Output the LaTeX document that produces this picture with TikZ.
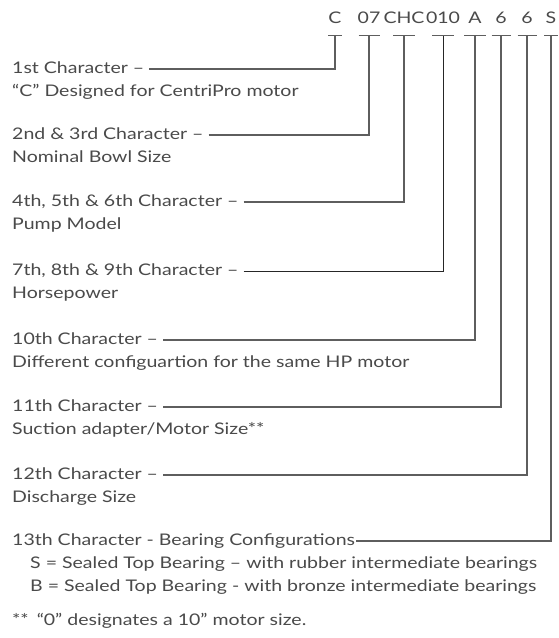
\documentclass[tikz,border=0pt]{standalone}
\usepackage{fontspec}
\setmainfont{Lato}[FakeStretch=1.22]
\usetikzlibrary{calc}
\definecolor{txt}{HTML}{4A4A4A}
\definecolor{ln}{HTML}{5E5E5E}
\begin{document}
\begin{tikzpicture}[x=1pt,y=-1pt,
  every node/.style={text=txt, inner sep=0pt, font=\fontsize{16}{18}\selectfont},
  lbl/.style={anchor=base west},
  code/.style={anchor=base},
  conn/.style={draw=ln, line width=1.2pt},
  connd/.style={draw=black!85, line width=0.9pt}]
\useasboundingbox (0,0) rectangle (558,638);
\fill[white] (0,0) rectangle (558,638);
% code characters
\node[code] (c1) at (335,23) {C};
\node[code] (c2) at (369,23) {07};
\node[code] (c3) at (404,23) {CHC};
\node[code] (c4) at (443,23) {010};
\node[code] (c5) at (475,23) {A};
\node[code] (c6) at (501,23) {6};
\node[code] (c7) at (527,23) {6};
\node[code] (c8) at (551,23) {S};
% tick points
\coordinate (t1) at (335,35.5);
\coordinate (t2) at (369,35.5);
\coordinate (t3) at (404,35.5);
\coordinate (t4) at (443,35.5);
\coordinate (t5) at (475,35.5);
\coordinate (t6) at (501,35.5);
\coordinate (t7) at (527,35.5);
\coordinate (t8) at (551,35.5);
\draw[conn] ($(t1)+(-7,0)$) -- ($(t1)+(7,0)$);
\draw[conn] ($(t2)+(-10.5,0)$) -- ($(t2)+(10.5,0)$);
\draw[conn] ($(t3)+(-11,0)$) -- ($(t3)+(11,0)$);
\draw[conn] ($(t4)+(-11,0)$) -- ($(t4)+(11,0)$);
\draw[conn] ($(t5)+(-11,0)$) -- ($(t5)+(11,0)$);
\draw[conn] ($(t6)+(-9.5,0)$) -- ($(t6)+(9.5,0)$);
\draw[conn] ($(t7)+(-9.5,0)$) -- ($(t7)+(9.5,0)$);
\draw[conn] ($(t8)+(-7,0)$) -- ($(t8)+(7,0)$);
% labels
\node[lbl] (l1) at (12,73) {1st Character –};
\node[lbl] (d1) at (12,96.5) {“C” Designed for CentriPro motor};
\node[lbl] (l2) at (12,139) {2nd \& 3rd Character –};
\node[lbl] (d2) at (12,162.5) {Nominal Bowl Size};
\node[lbl] (l3) at (12,206) {4th, 5th \& 6th Character –};
\node[lbl] (d3) at (12,229.5) {Pump Model};
\node[lbl] (l4) at (12,275) {7th, 8th \& 9th Character –};
\node[lbl] (d4) at (12,298.5) {Horsepower};
\node[lbl] (l5) at (12,344) {10th Character –};
\node[lbl] (d5) at (12,367.5) {Different configuartion for the same HP motor};
\node[lbl] (l6) at (12,411) {11th Character –};
\node[lbl] (d6) at (12,434.5) {Suction adapter/Motor Size**};
\node[lbl] (l7) at (12,479) {12th Character –};
\node[lbl] (d7) at (12,502.5) {Discharge Size};
\node[lbl] (l8) at (12,545) {13th Character - Bearing Configurations};
\node[lbl] (s8) at (30,568.5) {S = Sealed Top Bearing – with rubber intermediate bearings};
\node[lbl] (b8) at (30,591.5) {B = Sealed Top Bearing - with bronze intermediate bearings};
\node[lbl] (fn) at (12,625) {**\hspace{0.5em}“0” designates a 10" motor size.};
% connectors
\draw[conn] ([shift={(5pt,4pt)}]l1.base east) -| (t1);
\draw[conn] ([shift={(5pt,4pt)}]l2.base east) -| (t2);
\draw[conn] ([shift={(5pt,4pt)}]l3.base east) -| (t3);
\draw[connd] ([shift={(5pt,4pt)}]l4.base east) -| (t4);
\draw[conn] ([shift={(5pt,4pt)}]l5.base east) -| (t5);
\draw[conn] ([shift={(5pt,4pt)}]l6.base east) -| (t6);
\draw[conn] ([shift={(5pt,4pt)}]l7.base east) -| (t7);
\draw[conn] ([shift={(1pt,4pt)}]l8.base east) -| (t8);
\end{tikzpicture}
\end{document}
